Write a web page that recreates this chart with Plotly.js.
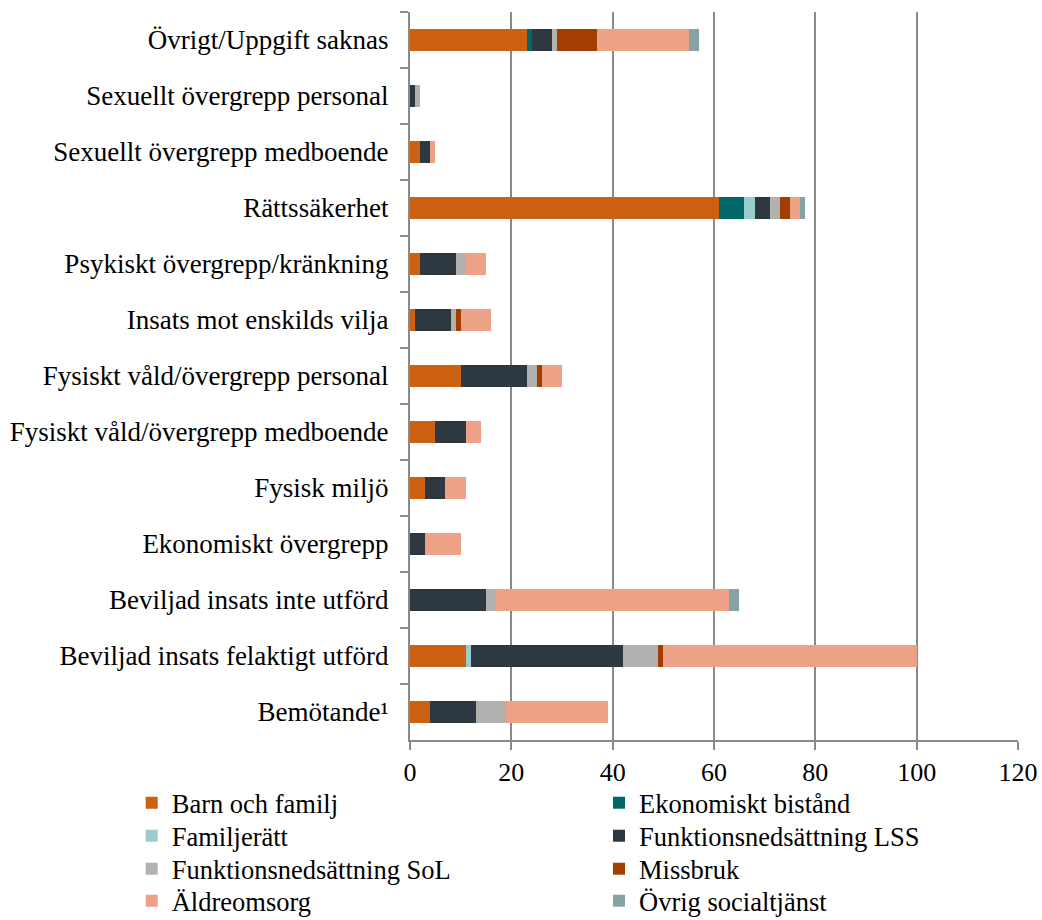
<!DOCTYPE html>
<html>
<head>
<meta charset="utf-8">
<script src="https://cdn.plot.ly/plotly-3.0.1.min.js"></script>
<style>html,body{margin:0;padding:0;background:#fff;}#chart{width:1042px;height:920px;}</style>
</head>
<body>
<div id="chart"></div>
<script>
// Categories, top to bottom as shown
const categories = [
  "Övrigt/Uppgift saknas",
  "Sexuellt övergrepp personal",
  "Sexuellt övergrepp medboende",
  "Rättssäkerhet",
  "Psykiskt övergrepp/kränkning",
  "Insats mot enskilds vilja",
  "Fysiskt våld/övergrepp personal",
  "Fysiskt våld/övergrepp medboende",
  "Fysisk miljö",
  "Ekonomiskt övergrepp",
  "Beviljad insats inte utförd",
  "Beviljad insats felaktigt utförd",
  "Bemötande¹"
];

// Series values (same order as categories)
const barnOchFamilj           = [23, 0, 2, 61, 2, 1, 10, 5, 3, 0, 0, 11, 4];
const ekonomisktBistand       = [1, 0, 0, 5, 0, 0, 0, 0, 0, 0, 0, 0, 0];
const familjeratt             = [0, 0, 0, 2, 0, 0, 0, 0, 0, 0, 0, 1, 0];
const funktionsnedsattningLSS = [4, 1, 2, 3, 7, 7, 13, 6, 4, 3, 15, 30, 9];
const funktionsnedsattningSoL = [1, 1, 0, 2, 2, 1, 2, 0, 0, 0, 2, 7, 6];
const missbruk                = [8, 0, 0, 2, 0, 1, 1, 0, 0, 0, 0, 1, 0];
const aldreomsorg             = [18, 0, 1, 2, 4, 6, 4, 3, 4, 7, 46, 50, 20];
const ovrigSocialtjanst       = [2, 0, 0, 1, 0, 0, 0, 0, 0, 0, 2, 0, 0];

const seriesNames = ["Barn och familj", "Ekonomiskt bistånd", "Familjerätt", "Funktionsnedsättning LSS",
                     "Funktionsnedsättning SoL", "Missbruk", "Äldreomsorg", "Övrig socialtjänst"];
const seriesValues = [barnOchFamilj, ekonomisktBistand, familjeratt, funktionsnedsattningLSS,
                      funktionsnedsattningSoL, missbruk, aldreomsorg, ovrigSocialtjanst];
const seriesColors = ["#CC6112", "#006868", "#99CCCA", "#2E3841", "#B1B2B0", "#A33D00", "#EDA287", "#86A3A3"];

const xTicks = [0, 20, 40, 60, 80, 100, 120];

const fam = "Liberation Serif, 'Times New Roman', serif";

// legend placement: two columns, four rows (row-major order of series)
const legendColX = [131.7, 599];          // px, container
const legendRowY = [803, 836, 869, 901];  // px, container

const traces = seriesNames.map((name, i) => ({
  type: "bar",
  orientation: "h",
  name: name,
  y: categories,
  x: seriesValues[i],
  marker: { color: seriesColors[i], line: { width: 0 } },
  legend: i === 0 ? "legend" : "legend" + (i + 1),
  hoverinfo: "x+name"
}));

const layout = {
  width: 1042,
  height: 920,
  margin: { l: 410, r: 24, t: 12, b: 180, autoexpand: false },
  barmode: "stack",
  bargap: 0.6,
  paper_bgcolor: "#fff",
  plot_bgcolor: "#fff",
  font: { family: fam, size: 26, color: "#000" },
  showlegend: true,
  xaxis: {
    range: [0, 120],
    tickvals: xTicks,
    ticktext: xTicks.map(String),
    showgrid: true,
    gridcolor: "#8a8a8a",
    gridwidth: 2,
    zeroline: false,
    showline: true,
    linecolor: "#8a8a8a",
    linewidth: 2,
    ticks: "outside",
    ticklen: 8,
    tickwidth: 2,
    tickcolor: "#8a8a8a",
    ticklabelstandoff: 0,
    tickfont: { family: fam, size: 26, color: "#000" },
    automargin: false,
    fixedrange: true
  },
  yaxis: {
    type: "category",
    categoryorder: "array",
    categoryarray: categories,
    autorange: "reversed",
    showgrid: false,
    zeroline: false,
    showline: true,
    linecolor: "#8a8a8a",
    linewidth: 2,
    ticks: "outside",
    tickson: "boundaries",
    ticklen: 8,
    tickwidth: 2,
    tickcolor: "#8a8a8a",
    ticklabelstandoff: 14,
    tickfont: { family: fam, size: 27, color: "#000" },
    automargin: false,
    fixedrange: true
  }
};

seriesNames.forEach((name, i) => {
  const key = i === 0 ? "legend" : "legend" + (i + 1);
  const col = i % 2, row = Math.floor(i / 2);
  layout[key] = {
    orientation: "v",
    xref: "container", yref: "container",
    x: legendColX[col] / 1042, xanchor: "left",
    y: 1 - legendRowY[row] / 920, yanchor: "middle",
    font: { family: fam, size: 26.5, color: "#000" },
    bgcolor: "rgba(0,0,0,0)",
    borderwidth: 0,
    itemclick: false
  };
});

Plotly.newPlot("chart", traces, layout, { displayModeBar: false, staticPlot: true });
</script>
</body>
</html>
